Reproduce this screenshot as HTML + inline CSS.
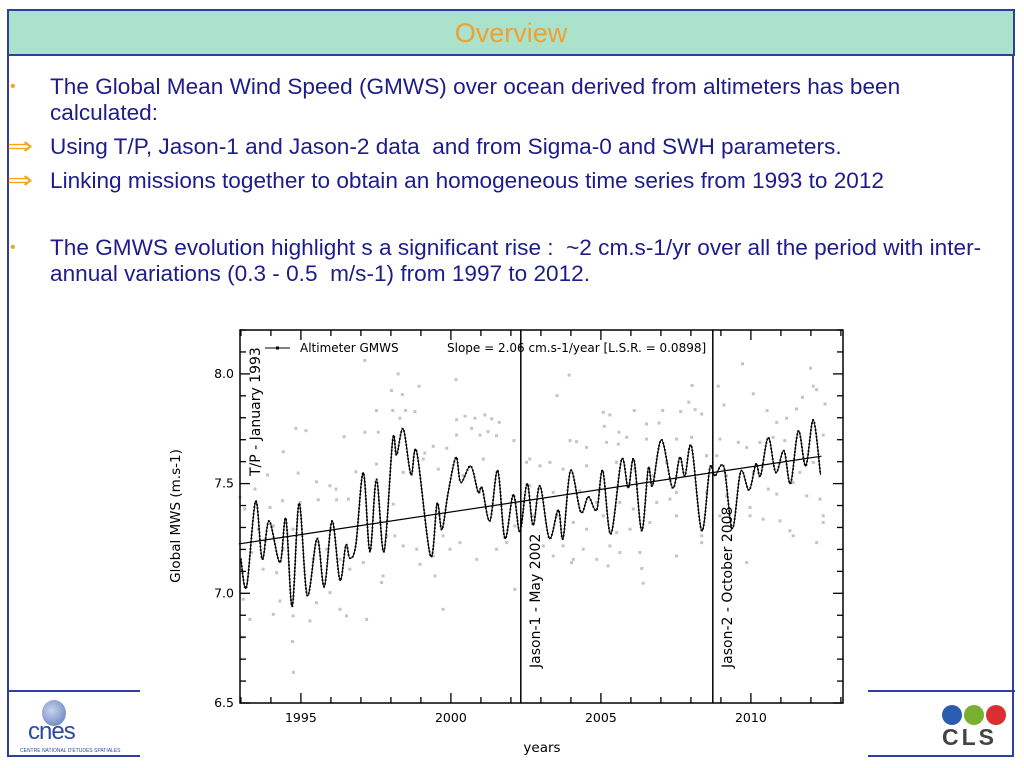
<!DOCTYPE html>
<html><head><meta charset="utf-8">
<style>
body{margin:0;width:1024px;height:768px;background:#fff;position:relative;overflow:hidden;font-family:"Liberation Sans",sans-serif}
.frame{position:absolute;left:7px;top:9px;width:1007px;height:748px;border:2px solid #2e3f9f;border-top:none;box-sizing:border-box}
.hdr{position:absolute;left:7px;top:9px;width:1008px;height:47px;background:#aae2cb;border:2px solid #2e3f9f;box-sizing:border-box;text-align:center;color:#f2a030;font-size:27px;line-height:44px}
.t{position:absolute;left:50px;color:#1c1c8a;font-size:22.6px;line-height:26px;white-space:nowrap}
.b{position:absolute;color:#f2a818;font-size:16px}
.a{position:absolute;color:#f2a818;font-size:24px;transform:scaleX(1.3);transform-origin:left}
.hl{position:absolute;height:2px;background:#2e3f9f}
</style></head><body>
<div class="frame"></div>
<div class="hdr">Overview</div>
<div class="b" style="left:10px;top:78px">•</div>
<div class="t" style="top:74px">The Global Mean Wind Speed (GMWS) over ocean derived from altimeters has been<br>calculated:</div>
<div class="a" style="left:7px;top:132px">⇒</div>
<div class="t" style="top:134px">Using T/P, Jason-1 and Jason-2 data&nbsp; and from Sigma-0 and SWH parameters.</div>
<div class="a" style="left:7px;top:166px">⇒</div>
<div class="t" style="top:168px">Linking missions together to obtain an homogeneous time series from 1993 to 2012</div>
<div class="b" style="left:10px;top:239px">•</div>
<div class="t" style="top:235px">The GMWS evolution highlight s a significant rise :&nbsp; ~2 cm.s-1/yr over all the period with inter-<br>annual variations (0.3 - 0.5&nbsp; m/s-1) from 1997 to 2012.</div>
<div class="hl" style="left:7px;top:690px;width:135px"></div>
<div class="hl" style="left:868px;top:690px;width:147px"></div>
<div style="position:absolute;left:20px;top:700px;width:80px;height:55px">
 <div style="position:absolute;left:22px;top:0;width:24px;height:26px;border-radius:50%;background:radial-gradient(circle at 40% 40%,#c8d4ee,#5a74b8)"></div>
 <div style="position:absolute;left:8px;top:18px;font-size:24px;color:#2c4aa0;letter-spacing:-1px">cnes</div>
 <div style="position:absolute;left:0;top:48px;font-size:5px;color:#2c4aa0;white-space:nowrap">CENTRE NATIONAL D'ETUDES SPATIALES</div>
</div>
<div style="position:absolute;left:942px;top:705px;width:70px;height:50px">
 <div style="position:absolute;left:0;top:0;width:20px;height:20px;border-radius:50%;background:#2a5db0"></div>
 <div style="position:absolute;left:22px;top:0;width:20px;height:20px;border-radius:50%;background:#7ab030"></div>
 <div style="position:absolute;left:44px;top:0;width:20px;height:20px;border-radius:50%;background:#d83030"></div>
 <div style="position:absolute;left:0;top:19px;font-size:23px;font-weight:bold;color:#444;letter-spacing:3px">CLS</div>
</div>

<svg id="chart" width="1024" height="768" style="position:absolute;left:0;top:0">
<rect x="140" y="325" width="728" height="443" fill="#fff"/>
<g id="plot"></g>
</svg>
<script>
const curveYears=[1993.0,1993.19,1993.49,1993.71,1993.94,1994.3,1994.5,1994.71,1994.94,1995.21,1995.54,1995.78,1996.04,1996.3,1996.5,1996.63,1996.83,1997.08,1997.3,1997.52,1997.77,1998.06,1998.19,1998.41,1998.67,1998.86,1999.32,1999.54,1999.7,1999.91,2000.17,2000.33,2000.66,2000.91,2001.04,2001.3,2001.56,2001.8,2002.08,2002.3,2002.54,2002.74,2002.97,2003.28,2003.58,2003.74,2003.99,2004.33,2004.58,2004.86,2005.06,2005.33,2005.69,2005.91,2006.1,2006.36,2006.58,2006.72,2007.02,2007.39,2007.63,2007.8,2008.02,2008.36,2008.63,2008.8,2009.1,2009.38,2009.66,2009.94,2010.17,2010.32,2010.58,2010.83,2011.1,2011.32,2011.58,2011.83,2012.08,2012.32];
const curveValues=[7.155,7.03,7.42,7.155,7.33,7.14,7.34,6.94,7.41,6.99,7.25,7.03,7.33,7.06,7.22,7.16,7.22,7.55,7.19,7.52,7.19,7.70,7.63,7.75,7.54,7.645,7.17,7.41,7.29,7.46,7.62,7.505,7.58,7.46,7.48,7.33,7.56,7.25,7.45,7.28,7.50,7.31,7.49,7.25,7.38,7.25,7.56,7.37,7.44,7.38,7.56,7.27,7.61,7.48,7.61,7.285,7.57,7.49,7.70,7.48,7.62,7.535,7.67,7.285,7.57,7.535,7.575,7.295,7.555,7.47,7.59,7.535,7.71,7.55,7.65,7.50,7.74,7.58,7.79,7.54];
const scatterZ1=[[405,95],[505,135],[485,185],[517,197],[568,172],[678,152],[440,245],[488,245],[527,245],[555,248],[510,268],[198,298],[228,305],[343,323],[160,368],[405,310],[445,310],[680,272],[705,262],[735,268],[765,258],[785,270],[808,280],[725,298],[750,318],[775,308],[800,320],[852,335],[680,318],[610,352],[650,358],[585,372],[30,505],[75,480],[113,438],[205,432],[260,458],[300,470],[320,512],[355,510],[378,428],[440,405],[490,525],[520,430],[580,390],[625,420],[700,440],[760,390],[890,400],[45,540],[120,535],[158,515],[210,520],[265,512],[318,480],[85,600],[130,590],[65,670],[100,720],[140,730],[160,660],[190,600],[250,690],[290,660],[330,690],[360,720],[400,700],[470,620],[495,620],[520,650],[560,660],[640,620],[660,660],[690,640],[740,690],[800,660],[830,640],[855,590],[40,810],[150,815],[190,860],[240,875],[260,820],[300,790],[330,840],[350,860],[410,870],[460,740],[455,760],[615,740],[640,840],[570,705],[610,680],[855,780],[60,870],[130,855]];
const scatterZ2=[[148,138],[112,200],[668,105],[872,118],[880,172],[890,182],[700,195],[517,170],[507,220],[595,172],[612,228],[250,250],[270,258],[343,245],[428,245],[482,248],[526,242],[545,255],[253,292],[297,310],[320,325],[380,285],[418,282],[742,245],[770,280],[800,268],[830,240],[848,205],[915,225],[150,335],[170,338],[200,355],[260,340],[295,345],[380,330],[470,330],[515,325],[600,330],[655,340],[680,355],[720,340],[760,325],[795,335],[910,318],[30,390],[60,410],[90,400],[130,420],[200,410],[290,400],[345,420],[400,440],[440,400],[560,380],[590,380],[620,440],[700,430],[840,430],[880,400],[30,470],[100,490],[180,485],[230,520],[300,520],[340,540],[410,520],[450,510],[470,490],[560,490],[620,500],[690,535],[745,480],[770,495],[820,460],[860,500],[900,510],[910,560],[40,560],[110,560],[160,580],[200,600],[250,560],[290,610],[330,600],[390,580],[470,560],[545,620],[600,560],[690,560],[730,570],[780,575],[810,605],[820,620],[910,580],[70,650],[100,680],[130,650],[160,690],[190,660],[230,690],[270,650],[300,670],[360,670],[470,680],[545,640],[680,700],[890,640],[265,710],[365,718],[370,762],[155,700]];
const scatterYears=[...scatterZ1.map(p=>+(1992.633+p[0]/90).toFixed(2)),...scatterZ2.map(p=>+(2002.3+p[0]/90).toFixed(2)),1994.72,1994.75,1993.05];
const scatterValues=[...scatterZ1.map(p=>+(8.2055-p[1]/657).toFixed(3)),...scatterZ2.map(p=>+(8.2055-p[1]/657).toFixed(3)),6.78,6.64,6.80];
const trendYears=[1992.93,2012.35];
const trendValues=[7.225,7.625];
const missionYears=[2002.33,2008.73];
const missionLabels=["Jason-1 - May 2002","Jason-2 - October 2008"];
const xTickLabels=[1995,2000,2005,2010];
const yTickLabels=[6.5,7.0,7.5,8.0];

const X0=240,X1=843,Y0=330,Y1=703;
const xMin=1992.97,xMax=2013.07,yMin=6.5,yMax=8.2;
const sx=v=>X0+(v-xMin)/(xMax-xMin)*(X1-X0);
const sy=v=>Y1-(v-yMin)/(yMax-yMin)*(Y1-Y0);
const NS='http://www.w3.org/2000/svg';
const g=document.getElementById('plot');
function mk(tag,attrs,parent){const e=document.createElementNS(NS,tag);for(const k in attrs)e.setAttribute(k,attrs[k]);(parent||g).appendChild(e);return e;}
function txt(s,attrs){const e=mk('text',Object.assign({'font-family':'DejaVu Sans, sans-serif','font-size':12.5,fill:'#000'},attrs));e.textContent=s;return e;}

for(let i=0;i<scatterYears.length;i++){
  const d=mk('rect',{x:sx(scatterYears[i])-1.5,y:sy(scatterValues[i])-1.5,width:3,height:3,fill:'#c4c4c4'});
  
  
}
const tl=mk('line',{x1:sx(trendYears[0]),y1:sy(trendValues[0]),x2:sx(trendYears[1]),y2:sy(trendValues[1]),stroke:'#000','stroke-width':1.2});


const pts=curveYears.map((y,i)=>[sx(y),sy(curveValues[i])]);
let d='M'+pts[0][0]+','+pts[0][1];
for(let i=0;i<pts.length-1;i++){
  const p0=pts[Math.max(0,i-1)],p1=pts[i],p2=pts[i+1],p3=pts[Math.min(pts.length-1,i+2)];
  const c1=[p1[0]+(p2[0]-p0[0])/6,p1[1]+(p2[1]-p0[1])/6],c2=[p2[0]-(p3[0]-p1[0])/6,p2[1]-(p3[1]-p1[1])/6];
  d+=` C${c1[0]},${c1[1]} ${c2[0]},${c2[1]} ${p2[0]},${p2[1]}`;
}
const cp=mk('path',{d:d,fill:'none',stroke:'#000','stroke-width':1});


const L=cp.getTotalLength();
const mg=mk('g',{fill:'#000'});


for(let s=0;s<=L;s+=3.5){const p=cp.getPointAtLength(s);mk('rect',{x:p.x-0.9,y:p.y-0.9,width:1.8,height:1.8},mg);}
missionYears.forEach((m,i)=>{
  const l=mk('line',{x1:sx(m),y1:Y0,x2:sx(m),y2:Y1,stroke:'#000','stroke-width':1.5});
  
  
  const t=txt(missionLabels[i],{'font-size':14,transform:`translate(${sx(m)+19},668) rotate(-90)`});
  
  
});
const tp=txt('T/P - January 1993',{'font-size':14,transform:'translate(260,476) rotate(-90)'});


const ax=mk('rect',{x:X0,y:Y0,width:X1-X0,height:Y1-Y0,fill:'none',stroke:'#000','stroke-width':1.5});


for(let y=1993;y<=2013;y++){
  const x=sx(y),len=(y%5===0)?10:6;
  mk('line',{x1:x,y1:Y1,x2:x,y2:Y1-len,stroke:'#000','stroke-width':1.3});
  mk('line',{x1:x,y1:Y0,x2:x,y2:Y0+len,stroke:'#000','stroke-width':1.3});
}
xTickLabels.forEach(v=>{const t=txt(String(v),{x:sx(v),y:722,'text-anchor':'middle'});});
for(let k=65;k<=82;k++){
  const v=k/10,y=sy(v),len=(k%5===0)?10:6;
  mk('line',{x1:X0,y1:y,x2:X0+len,y2:y,stroke:'#000','stroke-width':1.3});
  mk('line',{x1:X1,y1:y,x2:X1-len,y2:y,stroke:'#000','stroke-width':1.3});
}
yTickLabels.forEach(v=>{const t=txt(v.toFixed(1),{x:234,y:sy(v)+4,'text-anchor':'end'});});
const xt=txt('years',{x:542,y:752,'font-size':13.5,'text-anchor':'middle'});


const yt=txt('Global MWS (m.s-1)',{'font-size':13.5,'text-anchor':'middle',transform:'translate(180,516) rotate(-90)'});


const lg=mk('g',{});


mk('line',{x1:265,y1:348,x2:290,y2:348,stroke:'#000','stroke-width':1},lg);
mk('rect',{x:276,y:346.5,width:3,height:3,fill:'#000'},lg);
const lt=txt('Altimeter GMWS',{x:300,y:352,'font-size':12});


const st=txt('Slope = 2.06 cm.s-1/year [L.S.R. = 0.0898]',{x:447,y:352,'font-size':12});


</script>
</body></html>
